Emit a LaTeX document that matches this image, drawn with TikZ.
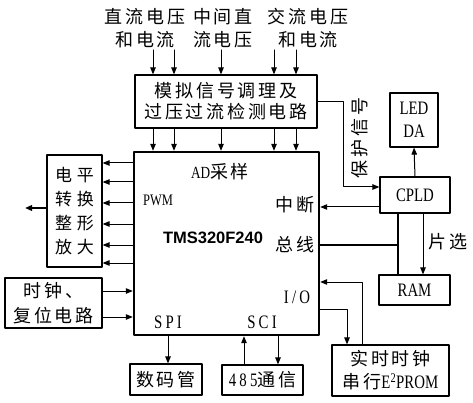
\documentclass[tikz,border=0pt]{standalone}
\usepackage{fontspec}
\setmainfont{Liberation Serif}[FakeStretch=0.78]
\newfontfamily\cn{Noto Sans CJK SC}[LetterSpace=15]
\newfontfamily\tms{Liberation Sans}
\usetikzlibrary{arrows.meta}

\begin{document}
\begin{tikzpicture}[line cap=round,line join=round,>={Triangle[length=7pt,width=5.5pt]},x=1pt,y=-1pt,
	every node/.style={inner sep=0pt,align=center,font=\cn\fontsize{18}{23}\selectfont},
	bloc/.style={draw,line width=1.2pt},
	lien/.style={->,line width=1pt},
	lat/.style={font=\rmfamily\fontsize{19}{23}\selectfont}]
		\useasboundingbox (0,0) rectangle (473,403);
		%entrees
		\node (e1) at (145,28) {直流电压\\和电流};
		\node (e2) at (223,28) {中间直\\流电压};
		\node (e3) at (308,28) {交流电压\\和电流};
		%conditionnement
		\node[bloc,minimum width=182,minimum height=53,font=\cn\fontsize{18}{21}\selectfont] (cond) at (226,101.5) {模拟信号调理及\\过压过流检测电路};
		%DSP
		\node[bloc,line width=2.4pt,minimum width=185,minimum height=183] (dsp) at (226.5,243.5) {};
		\node (ad) at (220,172) {{\rmfamily\fontsize{17}{20}\selectfont AD}采样};
		\node[font=\rmfamily\fontsize{16}{20}\selectfont] (pwm) at (158,200) {PWM};
		\node[font=\tms\bfseries\fontsize{16.5}{20}\selectfont] (tms) at (213,238) {TMS320F240};
		\node (it) at (295,205) {中断};
		\node (bs) at (295,245) {总线};
		\node[lat] (io) at (297,297) {I\,/\,O};
		\node[lat] (spi) at (168,322) {S\,P\,I};
		\node[lat] (sci) at (262,322) {S\,C\,I};
		%autres blocs
		\node[bloc,minimum width=55,minimum height=112,font=\cn\fontsize{17}{24}\selectfont] (niv) at (74.5,211) {电\hspace{5pt}平\\转\hspace{5pt}换\\整\hspace{5pt}形\\放\hspace{5pt}大};
		\node[bloc,minimum width=97,minimum height=50,font=\cn\fontsize{18}{25}\selectfont] (clk) at (53.5,303) {时钟、\\复位电路};
		\node[bloc,minimum width=72,minimum height=31] (seg) at (166,379.5) {数码管};
		\node[bloc,minimum width=81,minimum height=30] (com) at (262.5,380) {{\rmfamily\fontsize{19}{23}\selectfont 4\,8\,5}通信};
		\node[bloc,minimum width=117,minimum height=51] (rtc) at (390.5,370.5) {实时时钟\\串行{\rmfamily\fontsize{19}{23}\selectfont E\textsuperscript{2}PROM}};
		\node[bloc,lat,minimum width=70,minimum height=36] (cpld) at (415,195) {CPLD};
		\node[bloc,lat,minimum width=48,minimum height=54] (led) at (414,120) {LED\\DA};
		\node[bloc,lat,minimum width=71,minimum height=30] (ram) at (414.5,290) {RAM};
		%fleches d'entree
		\foreach \x in {153,174,221,274,296}{
			\coordinate (p) at (\x,50);
			\draw[lien] (p) -- (p |- cond.north);
			\draw[lien] (p |- cond.south) -- (p |- dsp.north);
		}
		%vers mise en forme
		\foreach \y in {163,182,203,224,245,263}{
			\coordinate (q) at (0,\y);
			\draw[lien] (q -| dsp.west) -- (q -| niv.east);
		}
		\coordinate (s) at (25,208);
		\draw[lien,line width=2pt] (s -| niv.west) -- (s);
		%horloge
		\foreach \y in {291,317}{
			\coordinate (q) at (0,\y);
			\draw[lien] (q -| clk.east) -- (q -| dsp.west);
		}
		%SPI et SCI
		\coordinate (a1) at (168,0);
		\draw[lien] (a1 |- dsp.south) -- (a1 |- seg.north);
		\coordinate (a2) at (244,0);
		\draw[lien] (a2 |- com.north) -- (a2 |- dsp.south);
		\coordinate (a3) at (278,0);
		\draw[lien] (a3 |- dsp.south) -- (a3 |- com.north);
		%I/O
		\coordinate (b1) at (362,282);
		\draw[lien] (b1 |- rtc.north) -- (b1) -- (b1 -| dsp.east);
		\coordinate (b2) at (347,309);
		\draw[lien] (b2 -| dsp.east) -- (b2) -- (b2 |- rtc.north);
		%protection
		\coordinate (c1) at (343,102);
		\coordinate (c2) at (343,187);
		\draw[lien] (c1 -| cond.east) -- (c1) -- (c2) -- (c2 -| cpld.west);
		\node[rotate=90] (prot) at (360,138) {保护信号};
		%interruption
		\coordinate (d1) at (0,207);
		\draw[lien] (d1 -| cpld.west) -- (d1 -| dsp.east);
		%bus
		\coordinate (d2) at (398,245);
		\draw[line width=2pt] (d2 -| dsp.east) -- (d2);
		\draw[line width=2pt] (d2 |- cpld.south) -- (d2 |- ram.north);
		%selection
		\coordinate (d3) at (423,0);
		\draw[lien] (d3 |- cpld.south) -- (d3 |- ram.north);
		\node (cs) at (448,242) {片选};
		%LED
		\draw[lien] (cpld.north) -- (led.south);
\end{tikzpicture}
\end{document}
